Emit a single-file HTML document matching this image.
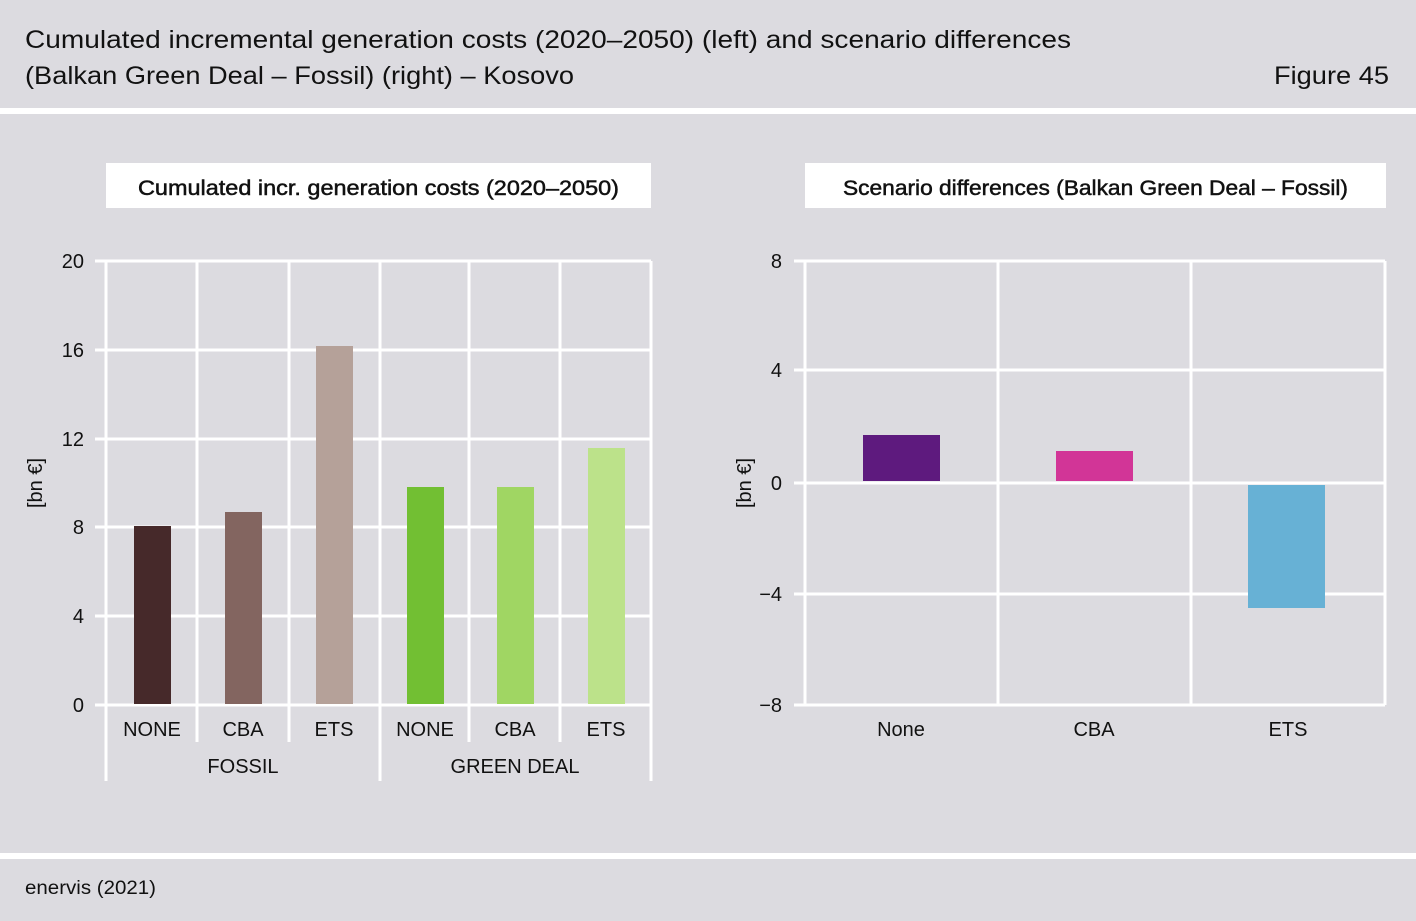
<!DOCTYPE html>
<html><head><meta charset="utf-8"><style>
html,body{margin:0;padding:0;background:#dcdbe0;}
svg{display:block;font-family:"Liberation Sans","DejaVu Sans",sans-serif;}
</style></head><body>
<svg width="1416" height="921" viewBox="0 0 1416 921" xmlns="http://www.w3.org/2000/svg">
<rect width="1416" height="921" fill="#dcdbe0"/>
<text x="25" y="48" font-size="25" fill="#111" textLength="1046" lengthAdjust="spacingAndGlyphs">Cumulated incremental generation costs (2020–2050) (left) and scenario differences</text>
<text x="25" y="84" font-size="25" fill="#111" textLength="549" lengthAdjust="spacingAndGlyphs">(Balkan Green Deal – Fossil) (right) – Kosovo</text>
<text x="1274" y="84" font-size="25" fill="#111" textLength="115" lengthAdjust="spacingAndGlyphs">Figure 45</text>
<rect x="0" y="108" width="1416" height="6" fill="#fff"/>
<rect x="0" y="853" width="1416" height="6" fill="#fff"/>
<text x="25" y="894" font-size="19" fill="#111" textLength="131" lengthAdjust="spacingAndGlyphs">enervis (2021)</text>

<!-- left chart -->
<rect x="106" y="163" width="545" height="45" fill="#fff"/>
<text x="138" y="195" font-size="21" fill="#111" stroke="#111" stroke-width="0.5" textLength="481" lengthAdjust="spacingAndGlyphs">Cumulated incr. generation costs (2020–2050)</text>
<g stroke="#fff" stroke-width="3">
<line x1="95" y1="261" x2="651" y2="261"/>
<line x1="95" y1="350" x2="651" y2="350"/>
<line x1="95" y1="439" x2="651" y2="439"/>
<line x1="95" y1="527" x2="651" y2="527"/>
<line x1="95" y1="616" x2="651" y2="616"/>
<line x1="95" y1="705" x2="651" y2="705"/>
<line x1="106" y1="261" x2="106" y2="781"/>
<line x1="197" y1="261" x2="197" y2="742"/>
<line x1="289" y1="261" x2="289" y2="742"/>
<line x1="380" y1="261" x2="380" y2="781"/>
<line x1="469" y1="261" x2="469" y2="742"/>
<line x1="560" y1="261" x2="560" y2="742"/>
<line x1="651" y1="261" x2="651" y2="781"/>
</g>
<rect x="134" y="526" width="37" height="178" fill="#46292a"/>
<rect x="225" y="512" width="37" height="192" fill="#836560"/>
<rect x="316" y="346" width="37" height="358" fill="#b5a199"/>
<rect x="407" y="487" width="37" height="217" fill="#72bf33"/>
<rect x="497" y="487" width="37" height="217" fill="#a0d663"/>
<rect x="588" y="448" width="37" height="256" fill="#bce28a"/>
<g font-size="20" fill="#111" text-anchor="end">
<text x="84" y="268">20</text><text x="84" y="357">16</text><text x="84" y="446">12</text>
<text x="84" y="534">8</text><text x="84" y="623">4</text><text x="84" y="712">0</text>
</g>
<text transform="translate(42,483) rotate(-90)" font-size="20" fill="#111" text-anchor="middle">[bn €]</text>
<g font-size="20" fill="#111" text-anchor="middle">
<text x="152" y="736">NONE</text><text x="243" y="736">CBA</text><text x="334" y="736">ETS</text>
<text x="425" y="736">NONE</text><text x="515" y="736">CBA</text><text x="606" y="736">ETS</text>
<text x="243" y="773">FOSSIL</text><text x="515" y="773">GREEN DEAL</text>
</g>

<!-- right chart -->
<rect x="805" y="163" width="581" height="45" fill="#fff"/>
<text x="843" y="195" font-size="21" fill="#111" stroke="#111" stroke-width="0.5" textLength="505" lengthAdjust="spacingAndGlyphs">Scenario differences (Balkan Green Deal – Fossil)</text>
<g stroke="#fff" stroke-width="3">
<line x1="794" y1="261" x2="1385" y2="261"/>
<line x1="794" y1="370" x2="1385" y2="370"/>
<line x1="794" y1="483" x2="1385" y2="483"/>
<line x1="794" y1="594" x2="1385" y2="594"/>
<line x1="794" y1="705" x2="1385" y2="705"/>
<line x1="805" y1="261" x2="805" y2="705"/>
<line x1="998" y1="261" x2="998" y2="705"/>
<line x1="1191" y1="261" x2="1191" y2="705"/>
<line x1="1385" y1="261" x2="1385" y2="705"/>
</g>
<rect x="863" y="435" width="77" height="46" fill="#5e1a7e"/>
<rect x="1056" y="451" width="77" height="30" fill="#d23597"/>
<rect x="1248" y="485" width="77" height="123" fill="#67b1d5"/>
<g font-size="20" fill="#111" text-anchor="end">
<text x="782" y="268">8</text><text x="782" y="377">4</text><text x="782" y="490">0</text>
<text x="782" y="601">−4</text><text x="782" y="712">−8</text>
</g>
<text transform="translate(751,483) rotate(-90)" font-size="20" fill="#111" text-anchor="middle">[bn €]</text>
<g font-size="20" fill="#111" text-anchor="middle">
<text x="901" y="736">None</text><text x="1094" y="736">CBA</text><text x="1288" y="736">ETS</text>
</g>
</svg>
</body></html>
